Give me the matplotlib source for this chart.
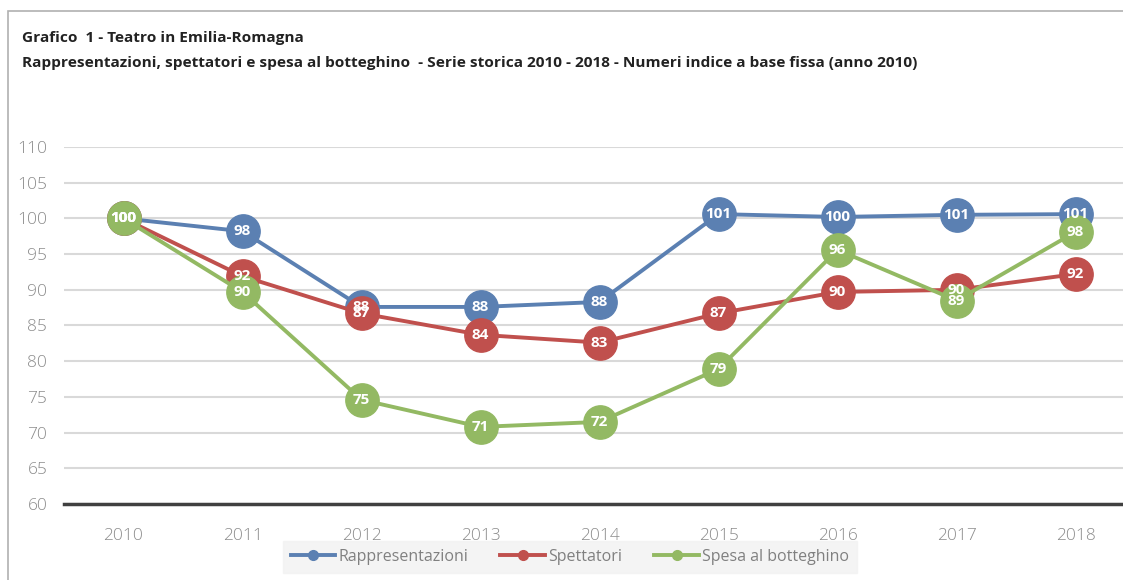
import numpy as np
import matplotlib.pyplot as plt
from matplotlib.patches import Rectangle

# dati (numeri indice, 2010 = 100)
anni = ['2010', '2011', '2012', '2013', '2014', '2015', '2016', '2017', '2018']
rappresentazioni = [100, 98.2, 87.6, 87.6, 88.3, 100.6, 100.2, 100.5, 100.6]
spettatori = [100, 91.9, 86.7, 83.7, 82.6, 86.7, 89.7, 90.0, 92.2]
spesa = [100, 89.7, 74.6, 70.8, 71.5, 78.9, 95.6, 88.5, 98.1]
etichette_rap = [100, 98, 88, 88, 88, 101, 100, 101, 101]
etichette_spe = [100, 92, 87, 84, 83, 87, 90, 90, 92]
etichette_bot = [100, 90, 75, 71, 72, 79, 96, 89, 98]
yticks = [60, 65, 70, 75, 80, 85, 90, 95, 100, 105, 110]

serie = [("Rappresentazioni", rappresentazioni, etichette_rap, '#5B80B2'),
         ("Spettatori", spettatori, etichette_spe, '#C0504D'),
         ("Spesa al botteghino", spesa, etichette_bot, '#93B963')]

W, H = 1123, 580
fig = plt.figure(figsize=(W/100, H/100), dpi=100)
plt.rcParams['font.family'] = ['Open Sans', 'DejaVu Sans']

# cornice esterna
fig.patches.append(Rectangle((8/W, -0.1), 1.2, (H-11)/H + 0.1, transform=fig.transFigure,
                             fill=False, edgecolor='#b0b0b0', lw=1.2))

fig.text(22/W, 1-38/H, "Grafico  1 - Teatro in Emilia-Romagna", fontsize=11.1,
         fontweight='bold', color='#222222', va='center')
fig.text(22/W, 1-63/H, "Rappresentazioni, spettatori e spesa al botteghino  - Serie storica 2010 - 2018 - "
         "Numeri indice a base fissa (anno 2010)", fontsize=11.1, fontweight='bold',
         color='#222222', va='center')

ax = fig.add_axes([64/W, 76/H, 1071/W, 357/H])
x = np.arange(len(anni))
for nome, vals, lab, col in serie:
    ax.plot(x, vals, color=col, lw=2.8, marker='o', markersize=24,
            markeredgecolor=col, label=nome, zorder=3, clip_on=False)
for nome, vals, lab, col in serie:
    for xi, v, l in zip(x, vals, lab):
        ax.text(xi, v, str(l), color='white', fontsize=11, fontweight='bold',
                ha='center', va='center', zorder=5)

ax.set_xlim(-0.5, 8.5)
ax.set_ylim(60, 110)
ax.set_yticks(yticks)
ax.set_xticks(x)
ax.set_xticklabels(anni)
ax.grid(axis='y', color='#d9d9d9', lw=1.5)
ax.set_axisbelow(True)
for s in ['top', 'right', 'left']:
    ax.spines[s].set_visible(False)
ax.spines['bottom'].set_color('#404040')
ax.spines['bottom'].set_linewidth(2.5)
ax.spines['bottom'].set_zorder(2)
ax.tick_params(axis='both', length=0, labelsize=12.5, labelcolor='#8c8c8c')
for t in ax.get_xticklabels() + ax.get_yticklabels():
    t.set_fontweight('light')
ax.tick_params(axis='y', pad=12)
ax.tick_params(axis='x', pad=17)

leg_handles = [plt.Line2D([], [], color=c, lw=2.8, marker='o', markersize=7) for _, _, _, c in serie]
leg = fig.legend(leg_handles, [s[0] for s in serie], loc='center', bbox_to_anchor=(570/W, 1-557/H),
                 ncol=3, frameon=True, fontsize=11.5, handlelength=2.8, handletextpad=0.2,
                 columnspacing=2.0, fancybox=False, borderpad=0.5)
leg.get_frame().set_facecolor('#f2f2f2')
leg.get_frame().set_edgecolor('#f2f2f2')
for t in leg.get_texts():
    t.set_color('#808080')

fig.savefig('out.png', dpi=100)
